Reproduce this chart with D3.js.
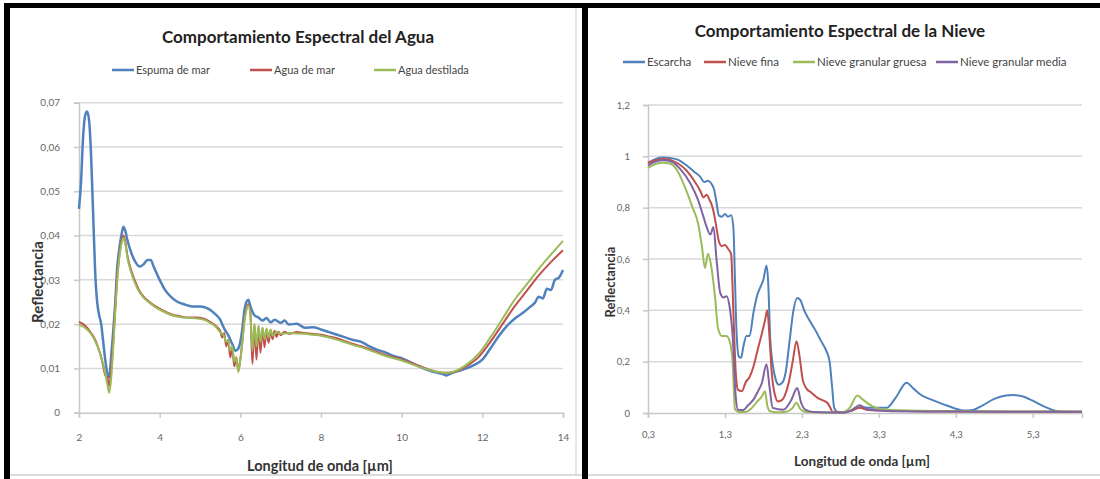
<!DOCTYPE html>
<html><head><meta charset="utf-8">
<script src="https://cdn.jsdelivr.net/npm/d3@7"></script>
<style>body{margin:0;background:#fff}svg{display:block;font-family:Lato,"Open Sans",sans-serif}</style>
</head><body><svg id="c" width="1100" height="479"></svg>
<script>
// ---------- Data: Comportamiento Espectral del Agua ----------
const aguaTitle = "Comportamiento Espectral del Agua";
const aguaSeriesNames = ["Espuma de mar", "Agua de mar", "Agua destilada"];
const aguaXTicks = [2, 4, 6, 8, 10, 12, 14];
const aguaYTicks = [0, 0.01, 0.02, 0.03, 0.04, 0.05, 0.06, 0.07];
const espumaDeMar = [[2.00,0.046],[2.05,0.052],[2.10,0.062],[2.15,0.067],[2.20,0.068],[2.25,0.066],[2.30,0.058],[2.35,0.045],[2.40,0.032],[2.45,0.025],[2.50,0.022],[2.55,0.020],[2.60,0.016],[2.65,0.012],[2.70,0.009],[2.75,0.008],[2.80,0.013],[2.90,0.025],[2.95,0.033],[3.00,0.037],[3.05,0.040],[3.10,0.042],[3.15,0.041],[3.20,0.039],[3.30,0.036],[3.40,0.034],[3.50,0.033],[3.60,0.0335],[3.70,0.0345],[3.78,0.0345],[3.85,0.033],[4.00,0.030],[4.15,0.0275],[4.30,0.026],[4.45,0.025],[4.60,0.0245],[4.80,0.024],[5.00,0.024],[5.20,0.0235],[5.35,0.0225],[5.50,0.021],[5.60,0.019],[5.70,0.0175],[5.80,0.0155],[5.88,0.014],[5.95,0.0145],[6.00,0.016],[6.05,0.019],[6.10,0.023],[6.15,0.025],[6.20,0.0255],[6.25,0.024],[6.35,0.022],[6.45,0.0215],[6.55,0.0208],[6.65,0.0214],[6.75,0.0204],[6.85,0.0210],[7.00,0.0203],[7.10,0.0208],[7.20,0.0199],[7.40,0.0201],[7.60,0.0192],[7.80,0.0193],[8.00,0.0188],[8.20,0.0182],[8.40,0.0176],[8.60,0.0170],[8.80,0.0164],[9.00,0.0160],[9.20,0.0150],[9.40,0.0142],[9.60,0.0136],[9.80,0.0128],[10.0,0.0123],[10.2,0.0115],[10.4,0.0106],[10.6,0.0098],[10.8,0.0092],[11.0,0.0088],[11.1,0.0084],[11.2,0.0088],[11.4,0.0094],[11.6,0.0100],[11.8,0.0108],[12.0,0.0120],[12.2,0.0145],[12.4,0.0172],[12.6,0.0195],[12.8,0.0212],[13.0,0.0225],[13.2,0.0240],[13.3,0.0248],[13.4,0.0262],[13.5,0.0258],[13.6,0.0280],[13.7,0.0277],[13.8,0.0300],[13.9,0.0305],[14.0,0.0322]];
const aguaDeMar = [[2.00,0.0205],[2.10,0.0200],[2.20,0.0192],[2.30,0.0180],[2.40,0.0165],[2.50,0.0140],[2.55,0.0125],[2.60,0.0105],[2.65,0.0085],[2.70,0.0080],[2.75,0.0060],[2.80,0.0100],[2.85,0.0160],[2.90,0.0240],[2.95,0.0310],[3.00,0.0355],[3.05,0.0385],[3.10,0.0400],[3.15,0.0385],[3.20,0.0355],[3.30,0.0320],[3.40,0.0295],[3.50,0.0275],[3.60,0.0262],[3.75,0.0250],[3.90,0.0240],[4.10,0.0230],[4.30,0.0222],[4.50,0.0218],[4.70,0.0215],[4.90,0.0215],[5.10,0.0212],[5.25,0.0205],[5.40,0.0195],[5.50,0.0185],[5.55,0.0170],[5.60,0.0180],[5.65,0.0150],[5.70,0.0165],[5.75,0.0125],[5.80,0.0145],[5.85,0.0105],[5.90,0.0125],[5.95,0.0095],[6.00,0.0120],[6.05,0.0160],[6.10,0.0210],[6.15,0.0235],[6.20,0.0245],[6.25,0.0225],[6.30,0.0110],[6.35,0.0200],[6.40,0.0120],[6.45,0.0195],[6.50,0.0135],[6.55,0.0192],[6.60,0.0148],[6.65,0.0188],[6.70,0.0158],[6.75,0.0186],[6.80,0.0166],[6.85,0.0185],[6.90,0.0171],[6.95,0.0183],[7.00,0.0175],[7.10,0.0183],[7.20,0.0178],[7.40,0.0182],[7.60,0.0180],[7.80,0.0178],[8.00,0.0176],[8.20,0.0172],[8.50,0.0165],[8.80,0.0155],[9.00,0.0150],[9.30,0.0140],[9.60,0.0130],[10.0,0.0120],[10.3,0.0110],[10.6,0.0100],[10.9,0.0092],[11.1,0.0090],[11.3,0.0092],[11.6,0.0105],[11.9,0.0125],[12.2,0.0160],[12.5,0.0200],[12.8,0.0240],[13.1,0.0275],[13.4,0.0310],[13.7,0.0340],[14.0,0.0367]];
const aguaDestilada = [[2.00,0.0198],[2.10,0.0195],[2.20,0.0188],[2.30,0.0178],[2.40,0.0162],[2.50,0.0140],[2.55,0.0125],[2.60,0.0110],[2.65,0.0090],[2.70,0.0065],[2.75,0.0045],[2.80,0.0080],[2.85,0.0150],[2.90,0.0230],[2.95,0.0300],[3.00,0.0350],[3.05,0.0380],[3.10,0.0395],[3.15,0.0380],[3.20,0.0350],[3.30,0.0315],[3.40,0.0290],[3.50,0.0272],[3.60,0.0260],[3.75,0.0248],[3.90,0.0238],[4.10,0.0228],[4.30,0.0220],[4.50,0.0216],[4.70,0.0214],[4.90,0.0213],[5.10,0.0210],[5.25,0.0203],[5.40,0.0193],[5.50,0.0182],[5.60,0.0172],[5.65,0.0160],[5.70,0.0165],[5.75,0.0140],[5.80,0.0150],[5.85,0.0115],[5.90,0.0125],[5.95,0.0092],[6.00,0.0120],[6.05,0.0160],[6.10,0.0205],[6.15,0.0232],[6.20,0.0242],[6.25,0.0220],[6.30,0.0140],[6.35,0.0200],[6.40,0.0150],[6.45,0.0196],[6.50,0.0160],[6.55,0.0192],[6.60,0.0166],[6.65,0.0190],[6.70,0.0170],[6.75,0.0188],[6.80,0.0174],[6.90,0.0183],[7.00,0.0178],[7.20,0.0180],[7.40,0.0179],[7.60,0.0178],[7.80,0.0176],[8.00,0.0174],[8.20,0.0170],[8.50,0.0162],[8.80,0.0153],[9.00,0.0148],[9.30,0.0138],[9.60,0.0128],[10.0,0.0118],[10.3,0.0108],[10.6,0.0099],[10.9,0.0092],[11.1,0.0090],[11.3,0.0093],[11.6,0.0108],[11.9,0.0132],[12.2,0.0170],[12.5,0.0212],[12.8,0.0255],[13.1,0.0290],[13.4,0.0325],[13.7,0.0357],[14.0,0.0388]];

// ---------- Data: Comportamiento Espectral de la Nieve ----------
const nieveTitle = "Comportamiento Espectral de la Nieve";
const nieveSeriesNames = ["Escarcha", "Nieve fina", "Nieve granular gruesa", "Nieve granular media"];
const nieveXTicks = [0.3, 1.3, 2.3, 3.3, 4.3, 5.3];
const nieveYTicks = [0, 0.2, 0.4, 0.6, 0.8, 1, 1.2];
const escarcha = [[0.30,0.975],[0.40,0.99],[0.50,0.995],[0.60,0.993],[0.70,0.985],[0.80,0.965],[0.90,0.94],[0.98,0.92],[1.03,0.90],[1.08,0.905],[1.12,0.895],[1.16,0.87],[1.19,0.82],[1.22,0.77],[1.26,0.765],[1.30,0.775],[1.34,0.765],[1.38,0.77],[1.41,0.72],[1.43,0.52],[1.45,0.32],[1.48,0.22],[1.51,0.215],[1.54,0.26],[1.58,0.30],[1.62,0.30],[1.67,0.39],[1.72,0.46],[1.76,0.49],[1.80,0.52],[1.84,0.575],[1.86,0.52],[1.89,0.28],[1.92,0.19],[1.96,0.13],[2.00,0.11],[2.05,0.12],[2.09,0.16],[2.14,0.28],[2.19,0.40],[2.24,0.448],[2.28,0.44],[2.33,0.40],[2.40,0.36],[2.48,0.32],[2.55,0.28],[2.62,0.24],[2.66,0.20],[2.69,0.11],[2.72,0.02],[2.76,0.005],[2.85,0.003],[2.95,0.01],[3.05,0.022],[3.20,0.02],[3.40,0.02],[3.52,0.06],[3.66,0.118],[3.75,0.095],[3.85,0.07],[4.00,0.05],[4.20,0.027],[4.40,0.01],[4.52,0.012],[4.65,0.03],[4.80,0.055],[4.95,0.068],[5.05,0.07],[5.15,0.066],[5.30,0.048],[5.45,0.025],[5.60,0.008],[5.75,0.004],[5.94,0.004]];
const nieveFina = [[0.30,0.975],[0.40,0.985],[0.50,0.99],[0.60,0.985],[0.70,0.97],[0.80,0.945],[0.90,0.905],[0.98,0.865],[1.02,0.84],[1.06,0.85],[1.10,0.83],[1.14,0.80],[1.18,0.74],[1.22,0.67],[1.26,0.65],[1.30,0.655],[1.34,0.64],[1.38,0.62],[1.41,0.39],[1.44,0.16],[1.47,0.09],[1.52,0.085],[1.57,0.12],[1.62,0.14],[1.67,0.18],[1.72,0.24],[1.78,0.31],[1.82,0.36],[1.85,0.40],[1.88,0.29],[1.91,0.15],[1.95,0.07],[1.99,0.045],[2.04,0.05],[2.08,0.07],[2.13,0.12],[2.18,0.2],[2.23,0.28],[2.27,0.22],[2.31,0.13],[2.36,0.095],[2.42,0.08],[2.50,0.06],[2.58,0.048],[2.63,0.04],[2.67,0.02],[2.70,0.004],[2.85,0.002],[2.95,0.01],[3.05,0.02],[3.15,0.012],[3.40,0.01],[4.00,0.006],[5.00,0.005],[5.94,0.005]];
const nieveGranularGruesa = [[0.30,0.955],[0.40,0.97],[0.50,0.975],[0.58,0.972],[0.68,0.945],[0.78,0.88],[0.88,0.80],[0.95,0.74],[1.00,0.65],[1.04,0.565],[1.08,0.62],[1.12,0.575],[1.17,0.455],[1.21,0.33],[1.26,0.30],[1.32,0.30],[1.37,0.27],[1.40,0.20],[1.43,0.015],[1.48,0.004],[1.58,0.005],[1.65,0.02],[1.72,0.045],[1.78,0.065],[1.82,0.085],[1.85,0.03],[1.88,0.008],[1.97,0.003],[2.10,0.005],[2.18,0.02],[2.23,0.04],[2.28,0.015],[2.35,0.004],[2.80,0.002],[2.92,0.02],[3.02,0.068],[3.10,0.05],[3.22,0.026],[3.40,0.013],[4.00,0.008],[5.00,0.006],[5.94,0.006]];
const nieveGranularMedia = [[0.30,0.965],[0.40,0.98],[0.50,0.985],[0.60,0.98],[0.72,0.95],[0.85,0.895],[0.95,0.83],[1.02,0.765],[1.06,0.727],[1.11,0.695],[1.15,0.725],[1.19,0.60],[1.24,0.467],[1.28,0.45],[1.32,0.455],[1.36,0.415],[1.40,0.30],[1.44,0.065],[1.47,0.013],[1.54,0.012],[1.60,0.03],[1.67,0.052],[1.73,0.085],[1.78,0.117],[1.84,0.19],[1.88,0.10],[1.92,0.02],[2.06,0.013],[2.16,0.05],[2.24,0.097],[2.29,0.04],[2.35,0.012],[2.45,0.004],[2.85,0.002],[2.95,0.012],[3.05,0.03],[3.15,0.015],[3.40,0.008],[4.00,0.006],[5.00,0.005],[5.94,0.005]];

const colors4 = ["#4F81BD", "#C0504D", "#9BBB59", "#8064A2"];
const loc = d3.formatLocale({decimal: ",", thousands: ".", grouping: [3], currency: ["", "€"]});

const svg = d3.select("#c");

function drawChart(cfg) {
  const g = svg.append("g");
  const x = d3.scaleLinear().domain(cfg.xDomain).range(cfg.xRange);
  const y = d3.scaleLinear().domain(cfg.yDomain).range(cfg.yRange);
  g.append("g").selectAll("line").data(cfg.yTicks.filter(d => d !== 0)).join("line")
    .attr("x1", cfg.xRange[0]).attr("x2", cfg.xRange[1])
    .attr("y1", d => y(d)).attr("y2", d => y(d))
    .attr("stroke", "#d9d9d9").attr("stroke-width", 1.5);
  const yAxis = d3.axisLeft(y).tickValues(cfg.yTicks).tickFormat(loc.format(cfg.yFmt)).tickSize(5).tickPadding(cfg.yPad);
  const ya = g.append("g").attr("transform", `translate(${cfg.xRange[0]},0)`).call(yAxis);
  const xAxis = d3.axisBottom(x).tickValues(cfg.xTicks).tickFormat(loc.format(cfg.xFmt)).tickSize(5).tickPadding(cfg.xPad);
  const xa = g.append("g").attr("transform", `translate(0,${cfg.yRange[0]})`).call(xAxis);
  [ya, xa].forEach(a => {
    a.select(".domain").attr("stroke", "#c8c8c8").attr("stroke-width", 1.5);
    a.selectAll(".tick line").attr("stroke", "#c8c8c8").attr("stroke-width", 1.5);
    a.selectAll(".tick text").attr("fill", "#666").style("font-size", cfg.tickSize + "px").style("font-family", "Lato, sans-serif");
  });
  const line = d3.line().x(d => x(d[0])).y(d => y(d[1])).curve(d3.curveMonotoneX);
  cfg.series.forEach((s, i) => {
    g.append("path").datum(s).attr("d", line).attr("fill", "none")
      .attr("stroke", colors4[i]).attr("stroke-width", cfg.widths[i]).attr("stroke-linejoin", "round");
  });
  g.append("text").attr("x", cfg.titleX).attr("y", cfg.titleY).attr("text-anchor", "middle")
    .style("font-size", cfg.titleSize + "px").style("font-weight", "bold").attr("fill", "#222").text(cfg.title);
  cfg.names.forEach((n, i) => {
    const lx = cfg.legendX[i];
    g.append("line").attr("x1", lx).attr("x2", lx + 22).attr("y1", cfg.legendY).attr("y2", cfg.legendY)
      .attr("stroke", colors4[i]).attr("stroke-width", 2.5);
    g.append("text").attr("x", lx + 24).attr("y", cfg.legendY + 4).style("font-size", cfg.legendSize + "px")
      .attr("fill", "#444").text(n);
  });
  g.append("text").attr("x", cfg.xTitleX).attr("y", cfg.xTitleY).attr("text-anchor", "middle")
    .style("font-size", cfg.xTitleSize + "px").style("font-weight", "bold").attr("fill", "#333").text("Longitud de onda [µm]");
  g.append("text").attr("transform", `translate(${cfg.yTitleX},${cfg.yTitleY}) rotate(-90)`).attr("text-anchor", "middle")
    .attr("dy", "0.35em")
    .style("font-size", cfg.yTitleSize + "px").style("font-weight", "bold").attr("fill", "#333").text("Reflectancia");
}

drawChart({
  title: aguaTitle, titleX: 298, titleY: 43, titleSize: 17,
  names: aguaSeriesNames, legendX: [112, 250, 374], legendY: 70, legendSize: 11,
  xDomain: [2, 14], xRange: [79, 563], yDomain: [0, 0.07], yRange: [412.7, 102.7],
  xTicks: aguaXTicks, yTicks: aguaYTicks, xFmt: "d", yFmt: ".2~f", tickSize: 10, yPad: 14, xPad: 16,
  series: [espumaDeMar, aguaDeMar, aguaDestilada], widths: [2.5, 2, 2],
  xTitleX: 320, xTitleY: 471, xTitleSize: 14.5, yTitleX: 38, yTitleY: 282, yTitleSize: 15
});
drawChart({
  title: nieveTitle, titleX: 840, titleY: 37, titleSize: 17,
  names: nieveSeriesNames, legendX: [623, 704, 793, 936], legendY: 62, legendSize: 11.5,
  xDomain: [0.3, 5.94], xRange: [648, 1082], yDomain: [0, 1.2], yRange: [413, 105],
  xTicks: nieveXTicks, yTicks: nieveYTicks, xFmt: ".1f", yFmt: ".1~f", tickSize: 9.5, yPad: 13, xPad: 13,
  series: [escarcha, nieveFina, nieveGranularGruesa, nieveGranularMedia], widths: [2, 2, 2, 2],
  xTitleX: 862, xTitleY: 466, xTitleSize: 13.5, yTitleX: 610, yTitleY: 282, yTitleSize: 13
});

const fr = svg.append("g");
fr.append("line").attr("x1", 576).attr("x2", 576).attr("y1", 8).attr("y2", 475).attr("stroke", "#d0d0d0").attr("stroke-width", 1);
fr.append("line").attr("x1", 4).attr("x2", 1100).attr("y1", 475).attr("y2", 475).attr("stroke", "#d0d0d0").attr("stroke-width", 1.5);
fr.append("rect").attr("x", 4).attr("y", 3).attr("width", 1096).attr("height", 5).attr("fill", "#000");
fr.append("rect").attr("x", 4).attr("y", 3).attr("width", 6).attr("height", 476).attr("fill", "#000");
fr.append("rect").attr("x", 582).attr("y", 3).attr("width", 6).attr("height", 476).attr("fill", "#000");
</script></body></html>
